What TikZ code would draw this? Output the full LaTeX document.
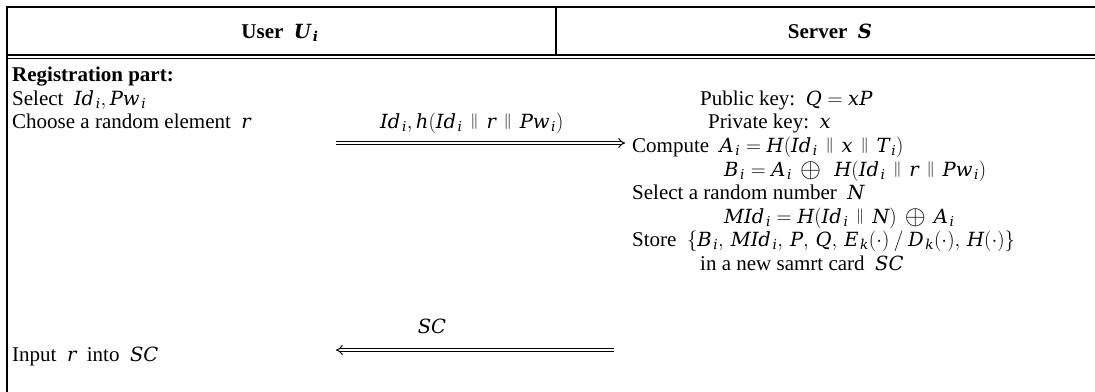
\documentclass[tikz,border=0pt]{standalone}
\usepackage{fontspec}
\setmainfont{Liberation Serif}
\newfontfamily\mathletterfont[NFSSFamily=mletfam,Scale=0.93]{DejaVu Serif}
\DeclareSymbolFont{mlet}{TU}{mletfam}{m}{it}
\SetSymbolFont{mlet}{bold}{TU}{mletfam}{b}{it}
\makeatletter
\def\declet#1{\DeclareMathSymbol{#1}{\mathalpha}{mlet}{`#1}}
\@tfor\ch:=ABCDEFGHIJKLMNOPQRSTUVWXYZabcdefghijklmnopqrstuvwxyz\do{\expandafter\declet\ch}
\makeatother
\usetikzlibrary{arrows.meta}
\newcommand{\ccat}{\mathbin{\,\raisebox{0.12em}{\scalebox{0.75}{$\|$}}\,}}
\newcommand{\xorop}{\mathbin{\,\raisebox{-0.06em}{\scalebox{1.3}{$\oplus$}}\,}}
\newcommand{\si}{_{\mkern2mu i}}
\newcommand{\sk}{_{\mkern2mu k}}
\tikzset{
  txt/.style={inner sep=0pt, anchor=base west, font=\fontsize{21}{23.5}\selectfont},
  ctr/.style={inner sep=0pt, anchor=base, font=\fontsize{21}{23.5}\selectfont},
  hdr/.style={inner sep=0pt, anchor=base, font=\fontsize{21}{23.5}\selectfont\bfseries},
  rule/.style={line width=2pt, line cap=rect},
  msg/.style={double, double distance=2.4pt, line width=1pt, -{Implies}}
}
\begin{document}
\begin{tikzpicture}[x=1pt,y=-1pt]
\useasboundingbox (0,0) rectangle (1095,391);
% table rules
\draw[rule] (7,7) -- (1095,7);
\draw[rule] (7,7) -- (7,391);
\draw[rule] (556,7) -- (556,54.5);
\draw[line width=2pt] (7,54.5) -- (1095,54.5);
\draw[line width=1.5pt] (7,58.5) -- (1095,58.5);
% header
\node[hdr] (hu) at (280,38) {User\ \ {\boldmath$U\si$}};
\node[hdr] (hs) at (830,38) {Server\ \ {\boldmath$S$}};
% left column
\node[txt, font=\fontsize{21}{23.5}\selectfont\bfseries] (reg) at (12,81) {Registration part:};
\node[txt] (sel) at (12,105) {Select\ \ $Id\si,Pw\si$};
\node[txt] (cho) at (12,128) {Choose a random element\ \ $r$};
\node[txt] (inp) at (12,361) {Input\ \ $r$\ \ into\ \ $SC$};
% right column
\node[txt] (pub) at (700,105) {Public key:\ \ $Q=xP$};
\node[txt] (pri) at (708,128) {Private key:\ \ $x$};
\node[txt] (cmp) at (632,152) {Compute\ \ $A\si=H(Id\si\ccat x\ccat T\si)$};
\node[txt] (bi) at (724,176) {$B\si=A\si\xorop\ H(Id\si\ccat r\ccat Pw\si)$};
\node[txt] (seln) at (632,199) {Select a random number\ \ $N$};
\node[txt] (mid) at (724,223) {$MId\si=H(Id\si\ccat N)\xorop A\si$};
\node[txt] (sto) at (632,246) {Store\ \ $\{B\si,\,MId\si,\,P,\,Q,\,E\sk(\cdot)\mathbin{/}D\sk(\cdot),\,H(\cdot)\}$};
\node[txt] (card) at (700,270) {in a new samrt card\ \ $SC$};
% messages
\coordinate (m1s) at (336,143);
\coordinate (m1e) at (625,143);
\draw[msg] (m1s) -- (m1e);
\node[txt] (m1l) at (380,128) {$Id\si,h(Id\si\ccat r\ccat Pw\si)$};
\coordinate (m2s) at (614,350);
\coordinate (m2e) at (336,350);
\draw[msg] (m2s) -- (m2e);
\node[ctr] (m2l) at (432,333) {$SC$};
\end{tikzpicture}
\end{document}
